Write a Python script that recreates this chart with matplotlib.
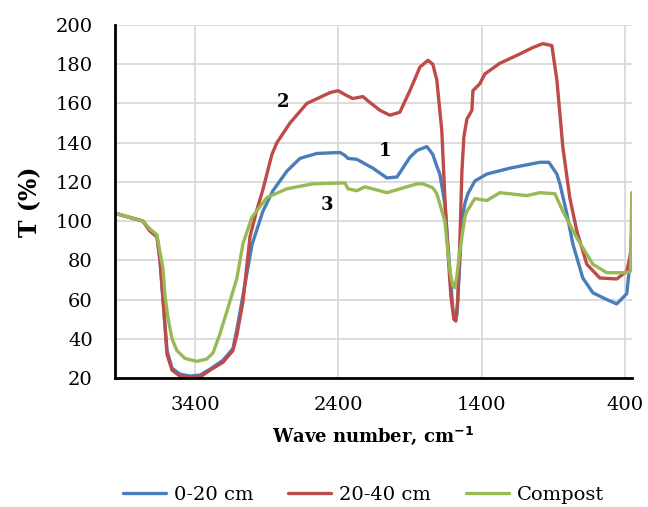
import matplotlib
matplotlib.use("Agg")
import matplotlib.pyplot as plt

plt.rcParams['font.family'] = ['DejaVu Serif']

# 0-20 cm (curve 1)
wn_1 = [3958, 3763, 3714, 3665, 3644, 3623, 3595, 3560, 3505, 3435, 3365, 3295,
        3205, 3135, 3107, 3065, 3002, 2926, 2856, 2758, 2667, 2549, 2388, 2353,
        2333, 2270, 2158, 2060, 1990, 1900, 1851, 1781, 1740, 1712, 1691, 1656,
        1621, 1600, 1586, 1572, 1551, 1537, 1516, 1495, 1446, 1363, 1202, 993,
        930, 902, 874, 853, 805, 763, 693, 623, 526, 456, 386, 365, 351]
t_1 = [104, 100, 95, 92, 80, 60, 34, 25, 22, 21, 21.5, 24.5,
       29, 35, 45, 62, 88, 105, 115.5, 125.5, 132, 134.5, 135, 133.5,
       132, 131.5, 127, 122, 122.5, 132.5, 136, 138, 134, 128, 124, 109,
       75, 55, 50, 52, 80, 100, 109, 114, 120.5, 124, 127, 130,
       130, 127, 124, 119, 104, 88.5, 71, 63.5, 60, 57.8, 63, 78, 95]

# 20-40 cm (curve 2)
wn_2 = [3958, 3763, 3714, 3665, 3644, 3623, 3595, 3560, 3505, 3435, 3365, 3295,
        3205, 3135, 3107, 3065, 3016, 2967, 2926, 2863, 2828, 2737, 2619, 2458,
        2402, 2340, 2298, 2228, 2179, 2109, 2040, 1970, 1900, 1830, 1774, 1740,
        1712, 1677, 1656, 1635, 1614, 1593, 1579, 1565, 1551, 1537, 1523, 1502,
        1467, 1460, 1412, 1377, 1272, 1153, 1042, 972, 909, 874, 832, 784,
        735, 665, 574, 456, 386, 351]
t_2 = [104, 100, 95, 92, 80, 60, 32, 24, 21, 20.5, 20.5, 24,
       28, 34, 42, 59, 92, 106, 116, 134, 140, 150, 160, 165.5,
       166.5, 164, 162.5, 163.5, 160.5, 156.5, 154, 155.5, 166.5, 178.5, 182, 180,
       172, 146, 112, 85, 62, 50, 49, 60, 90, 125, 143, 152,
       156.5, 166.5, 170, 175, 180.5, 184.5, 188.5, 190.5, 189.5, 172, 137.5, 112,
       95, 78, 71, 70.5, 74.5, 86]

# Compost (curve 3)
wn_3 = [3958, 3763, 3714, 3665, 3644, 3623, 3609, 3588, 3560, 3526, 3470, 3386,
        3317, 3274, 3226, 3177, 3107, 3065, 3002, 2898, 2758, 2577, 2353, 2333,
        2270, 2214, 2060, 1851, 1809, 1740, 1712, 1656, 1621, 1600, 1586, 1572,
        1551, 1516, 1502, 1446, 1363, 1272, 1084, 993, 888, 832, 735, 623,
        526, 414, 379, 360, 351]
t_3 = [104, 100, 96, 93, 84, 76, 62, 50.5, 40, 34, 30, 28.5,
       29.7, 32.8, 42.5, 54, 71, 88.5, 102, 112, 116.5, 119, 119.5, 116.5,
       115.5, 117.5, 114.5, 119, 119, 117, 114, 100, 75, 67, 66, 72,
       85, 102, 105, 111.5, 110.5, 114.5, 113, 114.5, 114, 105, 91.5, 78,
       73.7, 73.7, 74, 74.5, 114.5]

x_ticks = [3400, 2400, 1400, 400]
y_ticks = list(range(20, 201, 20))

fig = plt.figure(figsize=(6.48, 5.07), dpi=100)
ax = fig.add_axes([0.1775, 0.2544, 0.7975, 0.6963])

style = dict(lw=2.4, solid_joinstyle='round', solid_capstyle='round')
ax.plot(wn_1, t_1, color='#4A7EBB', label='0-20 cm', **style)
ax.plot(wn_2, t_2, color='#BE4B48', label='20-40 cm', **style)
ax.plot(wn_3, t_3, color='#98B954', label='Compost', **style)

ax.set_xlim(3958, 351)
ax.set_ylim(20, 200)
ax.set_xticks(x_ticks)
ax.set_yticks(y_ticks)
ax.tick_params(axis='both', length=0, labelsize=14)
ax.tick_params(axis='y', pad=16)
ax.tick_params(axis='x', pad=13)
ax.grid(True, color='#d9d9d9', lw=1.3)
ax.set_axisbelow(True)
for s in ['top', 'right']:
    ax.spines[s].set_visible(False)
for s in ['left', 'bottom']:
    ax.spines[s].set_linewidth(2)
    ax.spines[s].set_color('black')

ax.set_ylabel('T (%)', fontsize=17, fontweight='bold', labelpad=10)
ax.set_xlabel('Wave number, cm$^{\\mathbf{-1}}$', fontsize=13, fontweight='bold', labelpad=8)

# curve numbers
ax.text(2786, 160.6, '2', fontsize=13, fontweight='bold', ha='center', va='center')
ax.text(2074, 136, '1', fontsize=13, fontweight='bold', ha='center', va='center')
ax.text(2479, 108, '3', fontsize=13, fontweight='bold', ha='center', va='center')

fig.legend(loc='center', bbox_to_anchor=(0.561, 0.024), ncol=3, frameon=False,
           fontsize=14, handlelength=2.2, handletextpad=0.4, columnspacing=1.8)

fig.savefig('out.png', dpi=100)
